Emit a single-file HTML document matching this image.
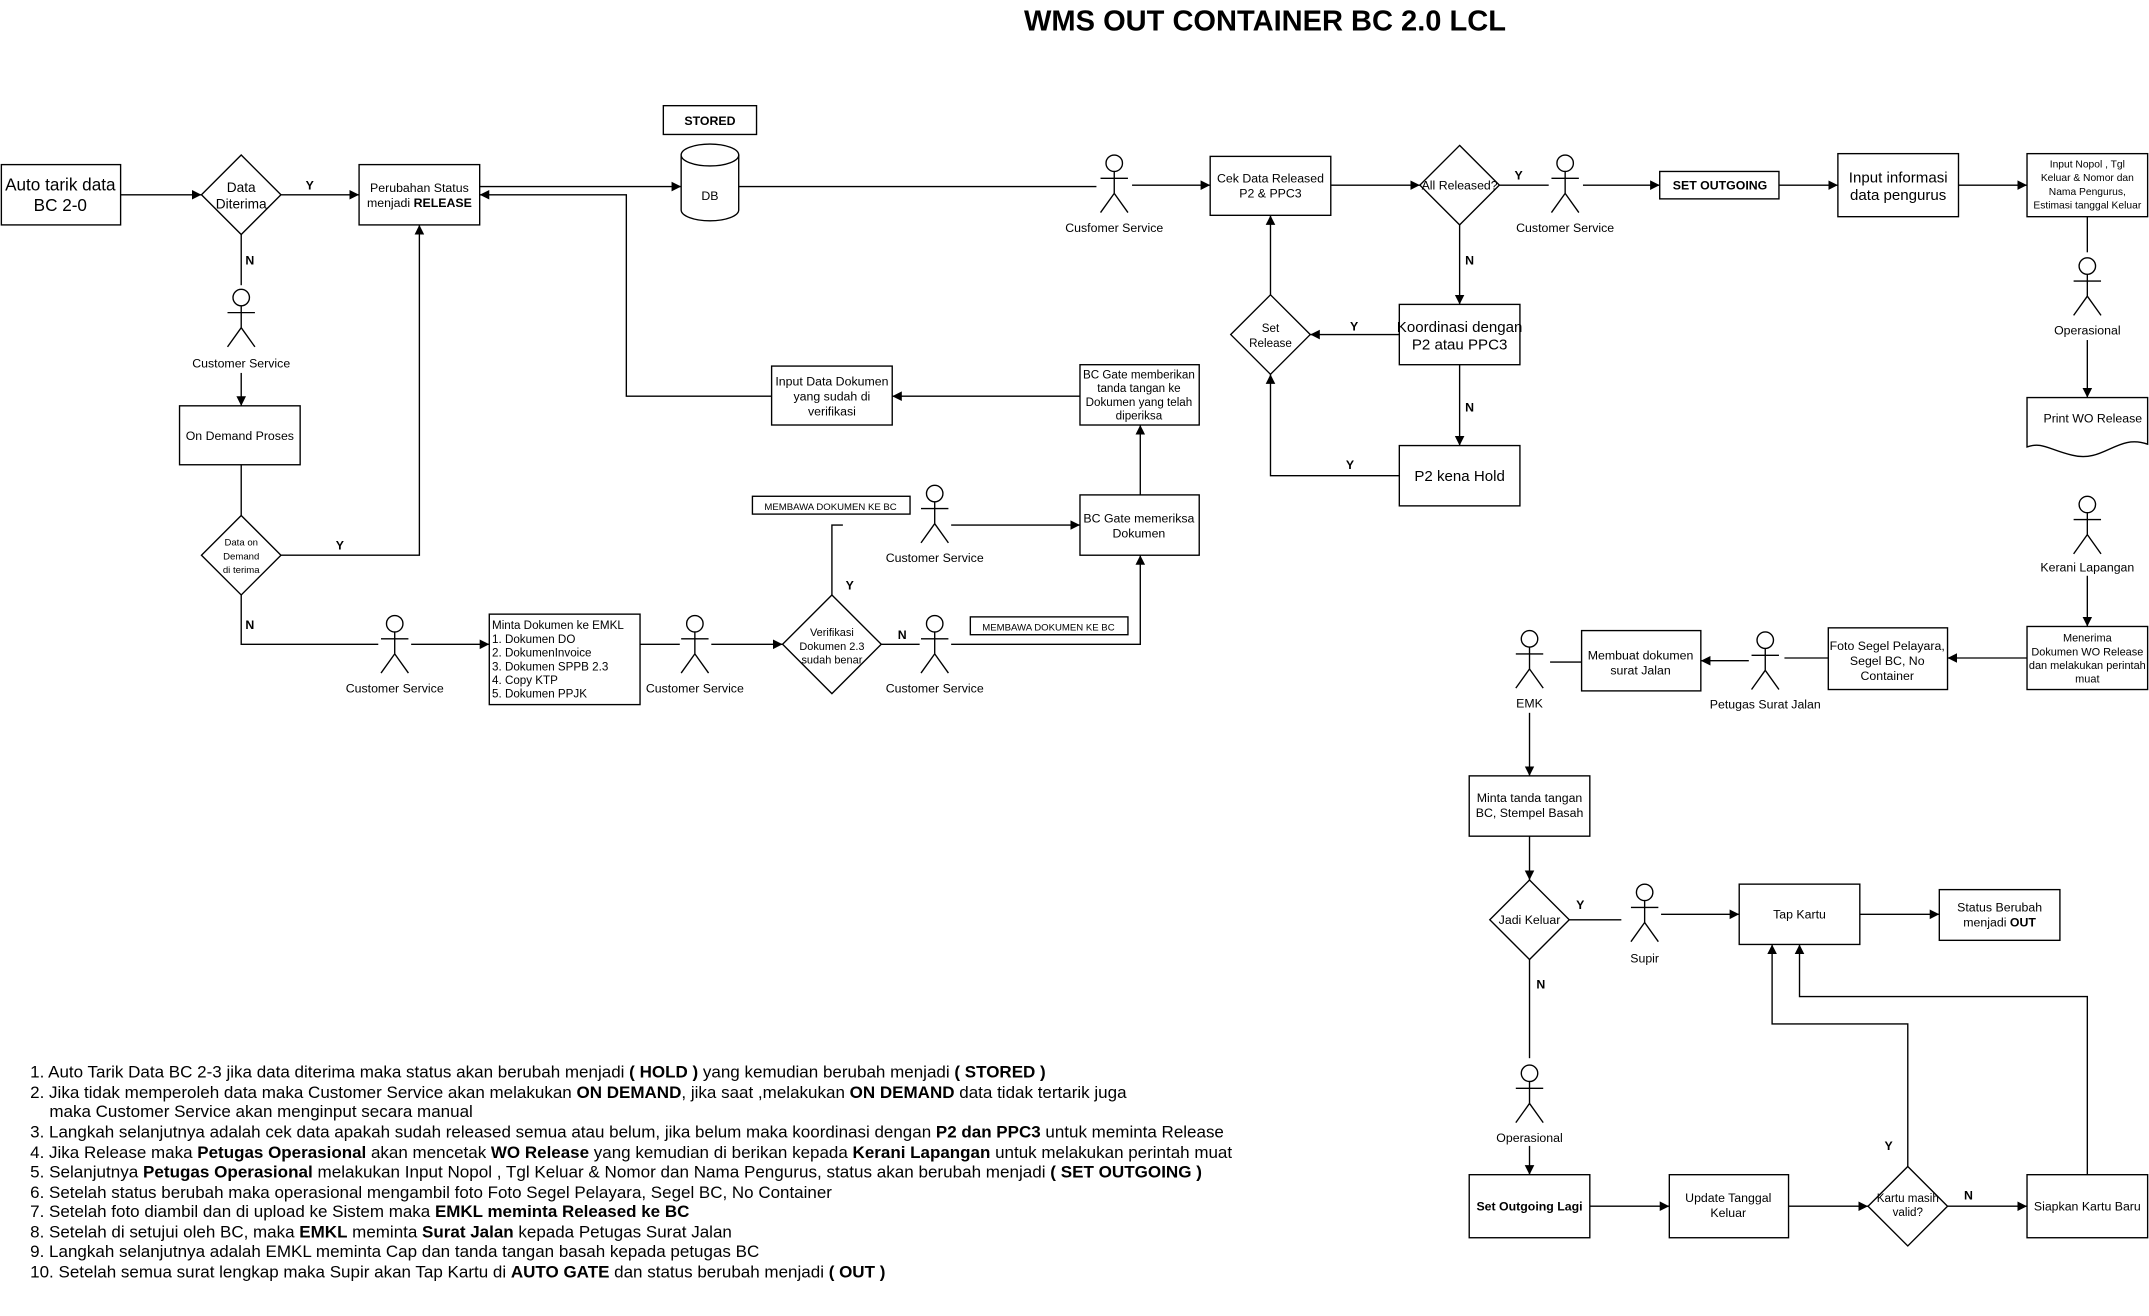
<!DOCTYPE html>
<html><head><meta charset="utf-8"><style>
html,body{margin:0;padding:0;background:#fff;}
svg{display:block;font-family:"Liberation Sans",Arial,sans-serif;}
</style></head><body>
<svg width="2149" height="1316" viewBox="0 0 1568 960" xmlns="http://www.w3.org/2000/svg">
<defs>
<marker id="a" markerWidth="8" markerHeight="8" refX="7" refY="4" orient="auto" markerUnits="userSpaceOnUse">
<path d="M0,0.5 L7,4 L0,7.5 Z" fill="#000"/></marker>
<g id="actor" fill="none" stroke="#000" stroke-width="1">
<circle cx="0" cy="6" r="6" fill="#fff"/><line x1="0" y1="12" x2="0" y2="28"/><line x1="-10" y1="17" x2="10" y2="17"/><line x1="0" y1="28" x2="-10" y2="42"/><line x1="0" y1="28" x2="10" y2="42"/></g>
</defs>
<rect width="1568" height="960" fill="#fff"/>
<text x="923" y="22" font-size="21.2" font-weight="bold" text-anchor="middle">WMS OUT CONTAINER BC 2.0 LCL</text>

<g fill="#fff" stroke="#000" stroke-width="1">
<rect x="1" y="120" width="87" height="44"/>
<polygon points="176,113 205,142 176,171 147,142"/>
<rect x="262" y="120" width="88" height="44"/>
<rect x="131" y="296" width="88" height="43"/>
<polygon points="176,376 205,405 176,434 147,405"/>
<rect x="357" y="448" width="110" height="66"/>
<polygon points="607,434 643,470 607,506 571,470"/>
<rect x="708" y="450" width="115" height="13"/>
<rect x="549" y="362" width="115" height="13"/>
<rect x="788" y="361" width="87" height="44"/>
<rect x="788" y="266" width="87" height="44"/>
<rect x="563" y="267" width="88" height="43"/>
<rect x="484" y="77" width="68" height="21"/>
<rect x="883" y="114" width="88" height="43"/>
<polygon points="1065,106 1094,135 1065,164 1036,135"/>
<rect x="1211" y="125" width="87" height="20"/>
<rect x="1341" y="112" width="88" height="46"/>
<rect x="1479" y="112" width="88" height="46"/>
<rect x="1021" y="222" width="88" height="44"/>
<polygon points="927,215 956,244 927,273 898,244"/>
<rect x="1021" y="325" width="88" height="44"/>
<path d="M1479,290 H1567 V324 C1545,316 1535,338 1512,332 C1495,328 1490,322 1479,326 Z"/>
<rect x="1479" y="457" width="88" height="46"/>
<rect x="1334" y="458" width="87" height="45"/>
<rect x="1154" y="460" width="87" height="44"/>
<rect x="1072" y="566" width="88" height="44"/>
<polygon points="1116,642 1145,671 1116,700 1087,671"/>
<rect x="1269" y="645" width="88" height="44"/>
<rect x="1415" y="649" width="88" height="37"/>
<rect x="1072" y="857" width="88" height="46"/>
<rect x="1218" y="857" width="87" height="46"/>
<polygon points="1392,851 1421,880 1392,909 1363,880"/>
<rect x="1479" y="857" width="88" height="46"/>
<path d="M497,113 V153 A21,8 0 0 0 539,153 V113"/>
<ellipse cx="518" cy="113" rx="21" ry="8"/>
</g>

<g fill="none" stroke="#000" stroke-width="1" marker-end="url(#a)">
<path d="M88,142 H147"/>
<path d="M205,142 H262"/>
<path d="M176,171 V208" marker-end="none"/>
<path d="M176,272 V296"/>
<path d="M176,339 V376" marker-end="none"/>
<path d="M205,405 H306 V164"/>
<path d="M176,434 V470 H276" marker-end="none"/>
<path d="M300,470 H357"/>
<path d="M467,470 H496" marker-end="none"/>
<path d="M519,470 H571"/>
<path d="M643,470 H671" marker-end="none"/>
<path d="M694,470 H832 V405"/>
<path d="M607,434 V383 H615" marker-end="none"/>
<path d="M694,383 H788"/>
<path d="M832,361 V310"/>
<path d="M788,289 H651"/>
<path d="M563,289 H457 V142 H350"/>
<path d="M350,136 H497"/>
<path d="M539,136 H800" marker-end="none"/>
<path d="M826,135 H883"/>
<path d="M971,135 H1036"/>
<path d="M1094,135 H1130" marker-end="none"/>
<path d="M1155,135 H1211"/>
<path d="M1298,135 H1341"/>
<path d="M1429,135 H1479"/>
<path d="M1065,164 V222"/>
<path d="M1021,244 H956"/>
<path d="M927,215 V157"/>
<path d="M1065,266 V325"/>
<path d="M1021,347 H927 V273"/>
<path d="M1523,158 V184" marker-end="none"/>
<path d="M1523,248 V290"/>
<path d="M1523,420 V457"/>
<path d="M1479,480 H1421"/>
<path d="M1334,480 H1302" marker-end="none"/>
<path d="M1276,482 H1241"/>
<path d="M1154,483 H1131" marker-end="none"/>
<path d="M1116,520 V566"/>
<path d="M1116,610 V642"/>
<path d="M1145,671 H1183" marker-end="none"/>
<path d="M1212,667 H1269"/>
<path d="M1357,667 H1415"/>
<path d="M1116,700 V772" marker-end="none"/>
<path d="M1116,836 V857"/>
<path d="M1160,880 H1218"/>
<path d="M1305,880 H1363"/>
<path d="M1421,880 H1479"/>
<path d="M1392,851 V747 H1293 V689"/>
<path d="M1523,857 V727 H1313 V689"/>
</g>

<use href="#actor" x="176" y="211"/>
<use href="#actor" x="288" y="449"/>
<use href="#actor" x="507" y="449"/>
<use href="#actor" x="682" y="449"/>
<use href="#actor" x="682" y="354"/>
<use href="#actor" x="813" y="113"/>
<use href="#actor" x="1142" y="113"/>
<use href="#actor" x="1523" y="188"/>
<use href="#actor" x="1523" y="362"/>
<use href="#actor" x="1288" y="461"/>
<use href="#actor" x="1116" y="460"/>
<use href="#actor" x="1200" y="645"/>
<use href="#actor" x="1116" y="777"/>

<g font-size="9" text-anchor="middle" fill="#000">
<text x="176" y="268">Customer Service</text>
<text x="288" y="505">Customer Service</text>
<text x="507" y="505">Customer Service</text>
<text x="682" y="505">Customer Service</text>
<text x="682" y="410">Customer Service</text>
<text x="813" y="169">Cusfomer Service</text>
<text x="1142" y="169">Customer Service</text>
<text x="1523" y="244">Operasional</text>
<text x="1523" y="417">Kerani Lapangan</text>
<text x="1288" y="517">Petugas Surat Jalan</text>
<text x="1116" y="516">EMK</text>
<text x="1200" y="702">Supir</text>
<text x="1116" y="833">Operasional</text>

<text x="44" y="139" font-size="12.5">Auto tarik data</text>
<text x="44" y="154" font-size="12.5">BC 2-0</text>
<text x="176" y="140" font-size="10">Data</text>
<text x="176" y="152" font-size="10">Diterima</text>
<text x="306" y="140">Perubahan Status</text>
<text x="306" y="151">menjadi <tspan font-weight="bold">RELEASE</tspan></text>
<text x="175" y="321">On Demand Proses</text>
<text x="176" y="398" font-size="7">Data on</text>
<text x="176" y="408" font-size="7">Demand</text>
<text x="176" y="418" font-size="7">di terima</text>
<text x="607" y="464" font-size="8">Verifikasi</text>
<text x="607" y="474" font-size="8">Dokumen 2.3</text>
<text x="607" y="484" font-size="8">sudah benar</text>
<text x="765" y="460" font-size="7">MEMBAWA DOKUMEN KE BC</text>
<text x="606" y="372" font-size="7">MEMBAWA DOKUMEN KE BC</text>
<text x="831" y="381">BC Gate memeriksa</text>
<text x="831" y="392">Dokumen</text>
<text x="831" y="276" font-size="8.5">BC Gate memberikan</text>
<text x="831" y="286" font-size="8.5">tanda tangan ke</text>
<text x="831" y="296" font-size="8.5">Dokumen yang telah</text>
<text x="831" y="306" font-size="8.5">diperiksa</text>
<text x="607" y="281">Input Data Dokumen</text>
<text x="607" y="292">yang sudah di</text>
<text x="607" y="303">verifikasi</text>
<text x="518" y="91" font-weight="bold">STORED</text>
<text x="518" y="146">DB</text>
<text x="927" y="133">Cek Data Released</text>
<text x="927" y="144">P2 &amp;  PPC3</text>
<text x="1065" y="138">All Released?</text>
<text x="1255" y="138" font-weight="bold">SET OUTGOING</text>
<text x="1385" y="133" font-size="11">Input informasi</text>
<text x="1385" y="146" font-size="11">data pengurus</text>
<text x="1523" y="122" font-size="7.5">Input Nopol , Tgl</text>
<text x="1523" y="132" font-size="7.5">Keluar  &amp; Nomor dan</text>
<text x="1523" y="142" font-size="7.5">Nama Pengurus,</text>
<text x="1523" y="152" font-size="7.5">Estimasi tanggal Keluar</text>
<text x="1065" y="242" font-size="11">Koordinasi dengan</text>
<text x="1065" y="255" font-size="11">P2 atau PPC3</text>
<text x="927" y="242" font-size="8.5">Set</text>
<text x="927" y="253" font-size="8.5">Release</text>
<text x="1065" y="351" font-size="11">P2 kena Hold</text>
<text x="1527" y="308">Print WO Release</text>
<text x="1523" y="468" font-size="8">Menerima</text>
<text x="1523" y="478" font-size="8">Dokumen WO Release</text>
<text x="1523" y="488" font-size="8">dan melakukan perintah</text>
<text x="1523" y="498" font-size="8">muat</text>
<text x="1377" y="474">Foto Segel Pelayara,</text>
<text x="1377" y="485">Segel BC, No</text>
<text x="1377" y="496">Container</text>
<text x="1197" y="481">Membuat dokumen</text>
<text x="1197" y="492">surat  Jalan</text>
<text x="1116" y="585">Minta tanda tangan</text>
<text x="1116" y="596">BC, Stempel Basah</text>
<text x="1116" y="674">Jadi Keluar</text>
<text x="1313" y="670">Tap Kartu</text>
<text x="1459" y="665">Status Berubah</text>
<text x="1459" y="676">menjadi <tspan font-weight="bold">OUT</tspan></text>
<text x="1116" y="883" font-weight="bold">Set Outgoing Lagi</text>
<text x="1261" y="877">Update Tanggal</text>
<text x="1261" y="888">Keluar</text>
<text x="1392" y="877" font-size="8.5">Kartu masih</text>
<text x="1392" y="887" font-size="8.5">valid?</text>
<text x="1523" y="883">Siapkan Kartu Baru</text>
</g>
<g font-size="8.5" fill="#000">
<text x="359" y="459">Minta Dokumen ke EMKL</text>
<text x="359" y="469">1. Dokumen DO</text>
<text x="359" y="479">2. DokumenInvoice</text>
<text x="359" y="489">3. Dokumen SPPB 2.3</text>
<text x="359" y="499">4. Copy KTP</text>
<text x="359" y="509">5. Dokumen PPJK</text>
</g>
<g font-size="9" font-weight="bold" fill="#000">
<text x="223" y="138">Y</text><text x="179" y="193">N</text>
<text x="245" y="401">Y</text><text x="179" y="459">N</text>
<text x="655" y="466">N</text><text x="617" y="430">Y</text>
<text x="1105" y="131">Y</text><text x="1069" y="193">N</text>
<text x="985" y="241">Y</text><text x="1069" y="300">N</text>
<text x="982" y="342">Y</text>
<text x="1150" y="663">Y</text><text x="1121" y="721">N</text>
<text x="1433" y="875">N</text><text x="1375" y="839">Y</text>
</g>
<g font-size="12" fill="#000">
<text x="22" y="786" textLength="741" lengthAdjust="spacingAndGlyphs">1. Auto Tarik Data BC 2-3 jika data diterima maka status akan berubah menjadi <tspan font-weight="bold">( HOLD )</tspan> yang kemudian berubah menjadi <tspan font-weight="bold">( STORED )</tspan></text>
<text x="22" y="801" textLength="800" lengthAdjust="spacingAndGlyphs">2. Jika tidak memperoleh data maka Customer Service akan melakukan <tspan font-weight="bold">ON DEMAND</tspan>, jika saat ,melakukan <tspan font-weight="bold">ON DEMAND</tspan> data tidak tertarik juga</text>
<text x="36" y="815" textLength="309" lengthAdjust="spacingAndGlyphs">maka Customer Service akan menginput secara manual</text>
<text x="22" y="830" textLength="871" lengthAdjust="spacingAndGlyphs">3. Langkah selanjutnya adalah cek data apakah sudah released semua atau belum, jika belum maka koordinasi dengan <tspan font-weight="bold">P2 dan PPC3</tspan> untuk meminta Release</text>
<text x="22" y="845" textLength="877" lengthAdjust="spacingAndGlyphs">4. Jika Release maka <tspan font-weight="bold">Petugas Operasional</tspan> akan mencetak <tspan font-weight="bold">WO Release</tspan> yang kemudian di berikan kepada <tspan font-weight="bold">Kerani Lapangan</tspan> untuk melakukan perintah muat</text>
<text x="22" y="859" textLength="855" lengthAdjust="spacingAndGlyphs">5. Selanjutnya <tspan font-weight="bold">Petugas Operasional</tspan> melakukan Input Nopol , Tgl Keluar  &amp; Nomor dan Nama Pengurus, status akan berubah menjadi <tspan font-weight="bold">( SET OUTGOING )</tspan></text>
<text x="22" y="874" textLength="585" lengthAdjust="spacingAndGlyphs">6. Setelah status berubah maka operasional mengambil foto Foto Segel Pelayara, Segel BC, No Container</text>
<text x="22" y="888" textLength="481" lengthAdjust="spacingAndGlyphs">7. Setelah foto diambil dan di upload ke Sistem maka <tspan font-weight="bold">EMKL meminta Released ke BC</tspan></text>
<text x="22" y="903" textLength="512" lengthAdjust="spacingAndGlyphs">8. Setelah di setujui oleh BC, maka <tspan font-weight="bold">EMKL</tspan> meminta <tspan font-weight="bold">Surat Jalan</tspan> kepada Petugas Surat Jalan</text>
<text x="22" y="917" textLength="532" lengthAdjust="spacingAndGlyphs">9. Langkah selanjutnya adalah EMKL meminta Cap dan tanda tangan basah kepada petugas BC</text>
<text x="22" y="932" textLength="624" lengthAdjust="spacingAndGlyphs">10. Setelah semua surat lengkap maka Supir akan Tap Kartu di <tspan font-weight="bold">AUTO GATE</tspan> dan status berubah menjadi <tspan font-weight="bold">( OUT )</tspan></text>
</g>
</svg>
</body></html>
